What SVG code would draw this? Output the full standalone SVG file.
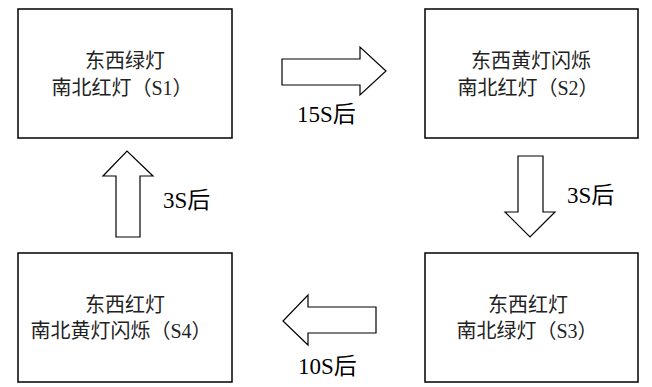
<svg xmlns="http://www.w3.org/2000/svg" width="652" height="387" viewBox="0 0 652 387">
<style>
.box{fill:#fff;stroke:#000;stroke-width:1.5}
.arr{fill:#fff;stroke:#000;stroke-width:1.2;stroke-linejoin:miter}
.t{font-family:"Liberation Serif","Noto Sans CJK SC",serif;font-size:20px;fill:#222;text-anchor:middle}
.l{font-family:"Liberation Serif","Noto Sans CJK SC",serif;font-size:23px;fill:#000}
</style>
<rect width="652" height="387" fill="#fff"/>
<g id="s1">
<rect class="box" x="18" y="9" width="214" height="129"/>
<text class="t" x="125" y="68">东西绿灯</text>
<text class="t" x="122" y="95">南北红灯（S1）</text>
</g>
<g id="s2">
<rect class="box" x="425" y="9" width="213" height="129"/>
<text class="t" x="531" y="68">东西黄灯闪烁</text>
<text class="t" x="528" y="95">南北红灯（S2）</text>
</g>
<g id="s3">
<rect class="box" x="425" y="253" width="213" height="129"/>
<text class="t" x="528" y="312">东西红灯</text>
<text class="t" x="527" y="338">南北绿灯（S3）</text>
</g>
<g id="s4">
<rect class="box" x="18" y="253" width="214" height="129"/>
<text class="t" x="125" y="312">东西红灯</text>
<text class="t" x="121" y="338">南北黄灯闪烁（S4）</text>
</g>
<g id="connectors">
<polygon class="arr" points="282,59 360,59 360,47 386,71 360,95 360,85 282,85"/>
<text class="l" x="297" y="122">15S后</text>
<polygon class="arr" points="518,156 543,156 543,212 555,212 530,237 505,212 518,212"/>
<text class="l" x="567" y="203">3S后</text>
<polygon class="arr" points="376,307 308,307 308,295 283,321 308,345 308,333 376,333"/>
<text class="l" x="298" y="374">10S后</text>
<polygon class="arr" points="116,237 140,237 140,176 153,176 127,151 103,176 116,176"/>
<text class="l" x="163" y="208">3S后</text>
</g>
</svg>
